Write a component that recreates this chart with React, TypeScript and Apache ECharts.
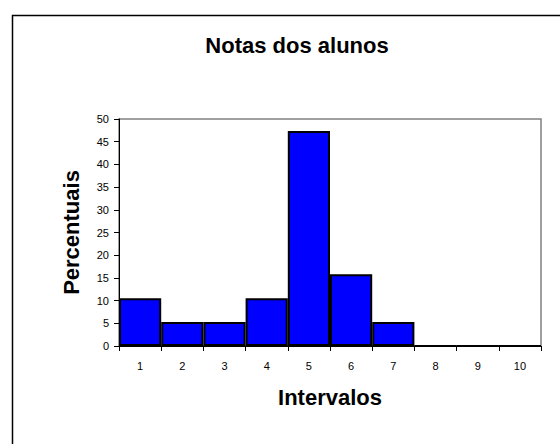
import React, { useEffect, useRef } from "react";
import * as echarts from "echarts";

const categories = ["1", "2", "3", "4", "5", "6", "7", "8", "9", "10"];
const percentuais = [10.53, 5.26, 5.26, 10.53, 47.37, 15.79, 5.26, 0, 0, 0];
const titleText = "Notas dos alunos";
const xName = "Intervalos";
const yName = "Percentuais";

export default function App() {
  const ref = useRef<HTMLDivElement>(null);
  useEffect(() => {
    if (!ref.current) return;
    const chart = echarts.init(ref.current, null, { renderer: "svg" });
    const font = "'Liberation Sans', Arial, sans-serif";
    chart.setOption({
      animation: false,
      backgroundColor: "#ffffff",
      textStyle: { fontFamily: font },
      title: {
        text: titleText,
        left: 292,
        textAlign: "center",
        top: 29,
        textStyle: { fontSize: 22, fontWeight: "bold", color: "#000", fontFamily: font },
      },
      graphic: [
        {
          type: "rect",
          shape: { x: 12.5, y: 15.5, width: 700, height: 600 },
          style: { fill: "none", stroke: "#000", lineWidth: 1.5 },
          silent: true,
        },
      ],
      grid: {
        left: 119,
        top: 119,
        right: 19,
        bottom: 98,
        show: true,
        borderColor: "#808080",
        borderWidth: 1.5,
        backgroundColor: "transparent",
      },
      xAxis: {
        type: "category",
        data: categories,
        name: xName,
        nameLocation: "middle",
        nameGap: 40,
        nameTextStyle: { fontSize: 22, fontWeight: "bold", color: "#000", fontFamily: font },
        axisLine: { lineStyle: { color: "#000", width: 1 } },
        axisTick: { show: true, length: 5, lineStyle: { color: "#000" } },
        axisLabel: { fontSize: 11, color: "#000", margin: 14, fontFamily: font },
      },
      yAxis: {
        type: "value",
        min: 0,
        max: 50,
        interval: 5,
        name: yName,
        nameLocation: "middle",
        nameGap: 37,
        nameTextStyle: { fontSize: 22, fontWeight: "bold", color: "#000", fontFamily: font },
        axisLine: { show: true, lineStyle: { color: "#000", width: 1 } },
        axisTick: { show: true, length: 5, lineStyle: { color: "#000" } },
        axisLabel: { fontSize: 11, color: "#000", margin: 10, fontFamily: font },
        splitLine: { show: false },
      },
      series: [
        {
          type: "bar",
          data: percentuais,
          barCategoryGap: "0%",
          itemStyle: { color: "#0000ff", borderColor: "#000", borderWidth: 2 },
        },
      ],
    });
    return () => chart.dispose();
  }, []);
  return (
    <div
      ref={ref}
      style={{ position: "fixed", left: 0, top: 0, width: 560, height: 444 }}
    />
  );
}
